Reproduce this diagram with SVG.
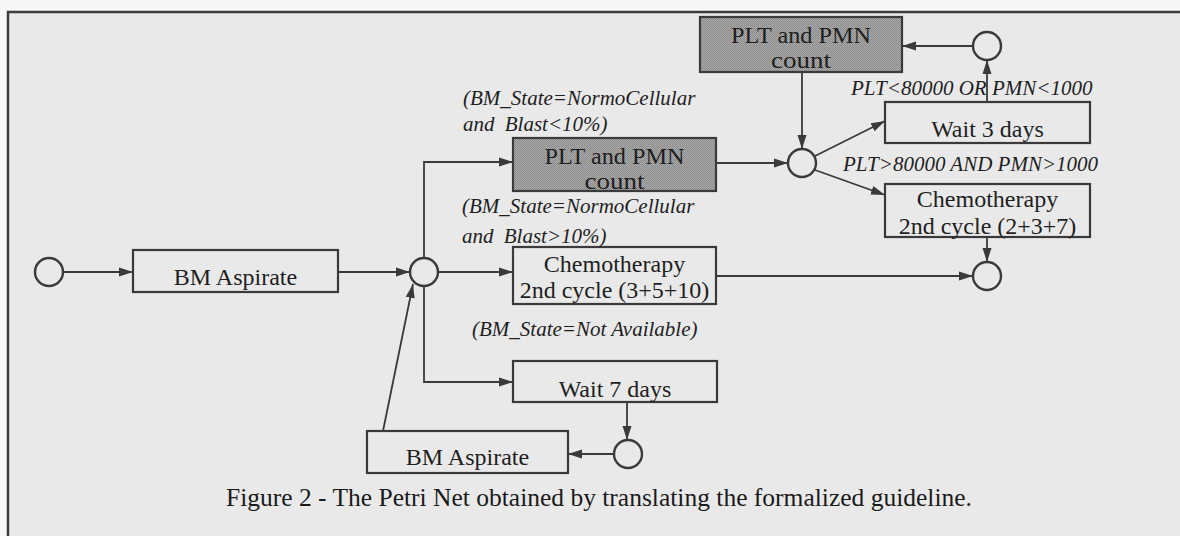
<svg xmlns="http://www.w3.org/2000/svg" width="1180" height="536" viewBox="0 0 1180 536">
  <defs>
    <!-- fine halftone used for the "PLT and PMN count" transitions -->
    <pattern id="halftone" width="2" height="2" patternUnits="userSpaceOnUse">
      <rect width="2" height="2" fill="#ababab"/>
      <rect width="1" height="1" fill="#8a8a8a"/>
      <rect x="1" y="1" width="1" height="1" fill="#8a8a8a"/>
    </pattern>
    <marker id="arrow" viewBox="0 0 14 10" refX="14" refY="5" markerWidth="14" markerHeight="10" markerUnits="userSpaceOnUse" orient="auto">
      <path d="M0,0.5 L14,5 L0,9.5 Z" fill="#3a3a3a"/>
    </marker>
  </defs>
  <style>
    .box { fill: none; stroke: #3a3a3a; stroke-width: 2.2; }
    .shaded { fill: url(#halftone); stroke: #3a3a3a; stroke-width: 2.2; }
    .place { fill: none; stroke: #3a3a3a; stroke-width: 2.4; }
    .edge { fill: none; stroke: #3a3a3a; stroke-width: 1.8; }
    .arr { marker-end: url(#arrow); }
    .lbl { font-family: "Liberation Serif", "Times New Roman", serif; font-size: 24px; fill: #1e1e1e; text-anchor: middle; }
    .lbl-s { font-family: "Liberation Serif", "Times New Roman", serif; font-size: 22.5px; fill: #1e1e1e; text-anchor: middle; }
    .cond { font-family: "Liberation Serif", "Times New Roman", serif; font-size: 21px; font-style: italic; fill: #1e1e1e; }
    .caption { font-family: "Liberation Serif", "Times New Roman", serif; font-size: 25.5px; fill: #1a1a1a; }
  </style>

  <!-- page and figure frame -->
  <rect x="0" y="0" width="1180" height="536" fill="#f7f7f7"/>
  <rect x="8" y="12" width="1172" height="524" fill="#e9e9e9"/>
  <path d="M8,536 V12 H1180" fill="none" stroke="#3c3c3c" stroke-width="2.5"/>

  <!-- connectors -->
  <g id="connectors">
    <path class="edge arr" d="M63,272 H133"/>
    <path class="edge arr" d="M338,272 H410"/>
    <path class="edge arr" d="M424,258 V162 H513"/>
    <path class="edge arr" d="M438,272 H513"/>
    <path class="edge arr" d="M424,286 V382 H513"/>
    <path class="edge arr" d="M716,163 H788"/>
    <path class="edge arr" d="M802,72 V149"/>
    <path class="edge arr" d="M815,156 L885,121"/>
    <path class="edge arr" d="M815,170 L885,195"/>
    <path class="edge arr" d="M987,102 V60"/>
    <path class="edge arr" d="M973,46 H902"/>
    <path class="edge arr" d="M987,237 V262"/>
    <path class="edge arr" d="M716,276 H973"/>
    <path class="edge arr" d="M627,402 V440"/>
    <path class="edge arr" d="M614,454 H568"/>
    <path class="edge arr" d="M383,431 L413,284"/>
  </g>

  <!-- places -->
  <g id="p-start"><circle class="place" cx="49" cy="272" r="14"/></g>
  <g id="p-split"><circle class="place" cx="424" cy="272" r="14"/></g>
  <g id="p-count"><circle class="place" cx="802" cy="163" r="14"/></g>
  <g id="p-recount"><circle class="place" cx="987" cy="46" r="14"/></g>
  <g id="p-end"><circle class="place" cx="987" cy="276" r="14"/></g>
  <g id="p-retry"><circle class="place" cx="628" cy="454" r="14"/></g>

  <!-- transitions -->
  <g id="t-bm-aspirate">
    <rect class="box" x="133" y="250" width="205" height="42"/>
    <text class="lbl" x="235.5" y="285">BM Aspirate</text>
  </g>
  <g id="t-count-low-blast">
    <rect class="shaded" x="513" y="138" width="203" height="53"/>
    <text class="lbl-s" x="614.5" y="164" textLength="140" lengthAdjust="spacingAndGlyphs">PLT and PMN</text>
    <text class="lbl-s" x="614.5" y="189" textLength="60" lengthAdjust="spacingAndGlyphs">count</text>
  </g>
  <g id="t-chemo-3-5-10">
    <rect class="box" x="513" y="247" width="203" height="57"/>
    <text class="lbl" x="614.5" y="272">Chemotherapy</text>
    <text class="lbl" x="614.5" y="298">2nd cycle (3+5+10)</text>
  </g>
  <g id="t-wait-7">
    <rect class="box" x="513" y="361" width="204" height="41"/>
    <text class="lbl" x="615" y="397">Wait 7 days</text>
  </g>
  <g id="t-bm-aspirate-repeat">
    <rect class="box" x="367" y="431" width="201" height="42"/>
    <text class="lbl" x="467.5" y="465">BM Aspirate</text>
  </g>
  <g id="t-count-recheck">
    <rect class="shaded" x="700" y="17" width="202" height="55"/>
    <text class="lbl-s" x="801" y="43" textLength="140" lengthAdjust="spacingAndGlyphs">PLT and PMN</text>
    <text class="lbl-s" x="801" y="68" textLength="60" lengthAdjust="spacingAndGlyphs">count</text>
  </g>
  <g id="t-wait-3">
    <rect class="box" x="885" y="102" width="205" height="41"/>
    <text class="lbl" x="987.5" y="137">Wait 3 days</text>
  </g>
  <g id="t-chemo-2-3-7">
    <rect class="box" x="885" y="184" width="205" height="53"/>
    <text class="lbl" x="987.5" y="207">Chemotherapy</text>
    <text class="lbl" x="987.5" y="234">2nd cycle (2+3+7)</text>
  </g>

  <!-- guard conditions -->
  <g id="conditions">
    <text class="cond" x="463" y="105">(BM_State=NormoCellular</text>
    <text class="cond" x="463" y="131" word-spacing="5">and Blast&lt;10%)</text>
    <text class="cond" x="462" y="213">(BM_State=NormoCellular</text>
    <text class="cond" x="462" y="243" word-spacing="5">and Blast&gt;10%)</text>
    <text class="cond" x="472" y="336">(BM_State=Not Available)</text>
    <text class="cond" x="851" y="95">PLT&lt;80000 OR PMN&lt;1000</text>
    <text class="cond" x="843" y="171">PLT&gt;80000 AND PMN&gt;1000</text>
  </g>

  <text class="caption" x="226" y="506">Figure 2 - The Petri Net obtained by translating the formalized guideline.</text>
</svg>
